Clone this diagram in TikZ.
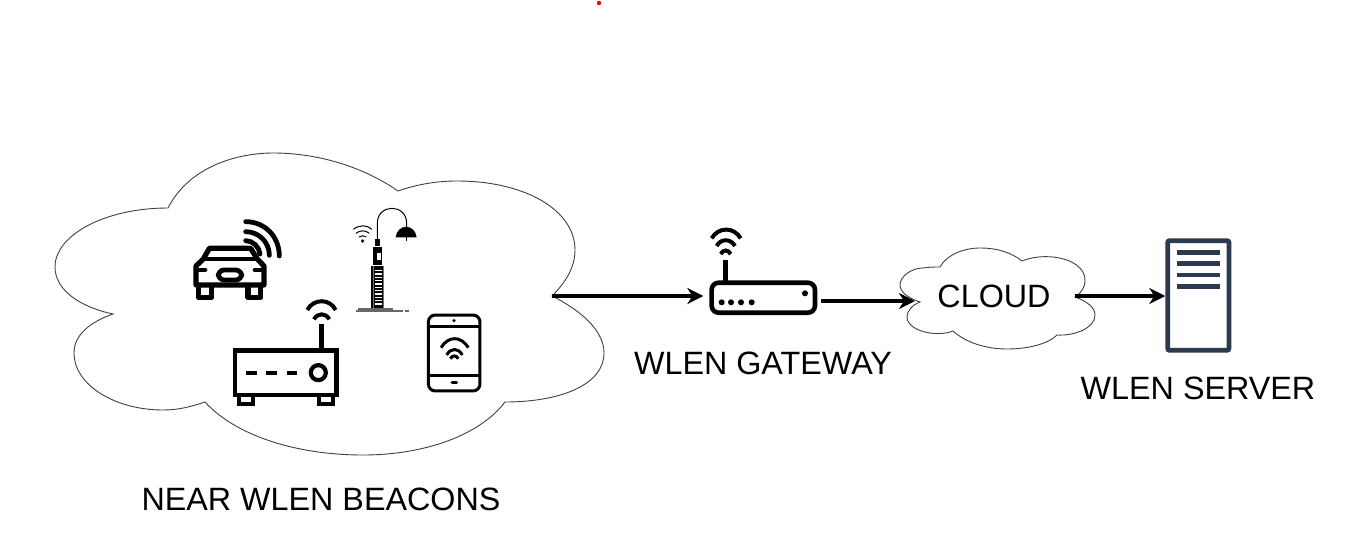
\documentclass[tikz,border=0pt]{standalone}
\usepackage{fontspec}
\setmainfont{Liberation Sans}
\usepackage{xcolor}
\usetikzlibrary{arrows.meta}
\definecolor{servercol}{HTML}{2B3A4E}
\tikzset{
  outline/.style={draw=black!75,line width=0.9pt},
  flow/.style={line width=3.4pt,-{Stealth[length=16pt,width=16pt,inset=5pt]}},
  caption/.style={font=\fontsize{32.3}{38}\selectfont,inner sep=0pt},
  zoomed/.style={x=0.3333pt,y=-0.3333pt},
  thick line/.style={line width=4.8pt},
  mid line/.style={line width=4pt},
}
\begin{document}
\begin{tikzpicture}[x=1pt,y=-1pt,line cap=butt]
\useasboundingbox (0,0) rectangle (1365,541);
\fill[red] (599,3) circle[radius=2.2pt];

% clouds
\draw[outline] (168,208) .. controls (190,165) and (240,153) .. (273,153)
  .. controls (320,153) and (365,168) .. (398,191)
  .. controls (415,185) and (435,181) .. (457,181)
  .. controls (525,181) and (575,210) .. (575,250)
  .. controls (575,268) and (565,283) .. (552,296)
  .. controls (580,310) and (604,330) .. (604,353)
  .. controls (604,385) and (560,402) .. (505,402)
  .. controls (480,435) and (425,455) .. (363,455)
  .. controls (295,455) and (235,435) .. (205,402)
  .. controls (190,407) and (178,410) .. (163,410)
  .. controls (115,410) and (74,385) .. (74,353)
  .. controls (74,335) and (90,322) .. (113,314)
  .. controls (80,307) and (55,290) .. (55,267)
  .. controls (55,235) and (105,208) .. (168,208) -- cycle;
\draw[outline] (940,267) .. controls (947,254) and (965,248) .. (980,248)
  .. controls (998,248) and (1012,253) .. (1022,261)
  .. controls (1032,257) and (1042,256) .. (1053,257)
  .. controls (1072,259) and (1085,268) .. (1085,280)
  .. controls (1085,288) and (1081,293) .. (1075,297)
  .. controls (1086,301) and (1095,307) .. (1095,315)
  .. controls (1095,328) and (1075,336) .. (1057,335)
  .. controls (1048,344) and (1028,349) .. (1007,349)
  .. controls (985,349) and (965,342) .. (953,331)
  .. controls (945,334) and (938,334) .. (930,333)
  .. controls (917,331) and (907,325) .. (907,317)
  .. controls (907,311) and (912,305) .. (920,302)
  .. controls (908,298) and (900,292) .. (900,285)
  .. controls (900,276) and (912,268) .. (923,268)
  .. controls (929,267) and (935,267) .. (940,267) -- cycle;

% car
\begin{scope}[shift={(170,190)},zoomed]
\draw[thick line,line width=5.2pt,line join=round] (78,228) -- (100,207) -- (118,175) -- (242,175) -- (262,207) -- (282,228)
  -- (282,285) -- (78,285) -- cycle;
\draw[thick line] (100,207) -- (262,207);
\draw[thick line,line cap=round] (82,240) -- (105,240);
\draw[thick line,line cap=round] (255,240) -- (278,240);
\draw[thick line,rounded corners=6pt] (145,240) rectangle (215,270);
\draw[thick line,line width=5.2pt,line join=round] (86,287) -- (86,322) -- (124,322) -- (124,287);
\draw[thick line,line width=5.2pt,line join=round] (234,287) -- (234,322) -- (272,322) -- (272,287);
\draw[thick line,line cap=round] (227,95) .. controls (285,95) and (328,140) .. (328,198);
\draw[thick line,line cap=round] (227,125) .. controls (265,125) and (298,155) .. (298,196);
\draw[thick line,line cap=round] (227,152) .. controls (248,152) and (268,170) .. (270,192);
\end{scope}

% street lamp
\begin{scope}[shift={(170,190)},zoomed]
\draw[line width=1pt] (550,118) .. controls (568,104) and (590,104) .. (606,118);
\draw[line width=1pt] (558,130) .. controls (570,120) and (586,120) .. (598,130);
\draw[line width=1pt] (567,141) .. controls (574,136) and (582,136) .. (589,141);
\fill (578,153) circle[radius=1.8pt];
\draw[line width=1pt] (622,148) -- (622,100) .. controls (622,40) and (710,40) .. (710,100) -- (710,115);
\fill (677,142) .. controls (682,100) and (735,100) .. (740,142) -- cycle;
\draw[line width=0.8pt] (708,140) -- (708,152);
\fill (615,148) rectangle (630,168);
\fill (610,172) rectangle (637,225);
\fill[white] (620,188) rectangle (633,210);
\fill[black!55] (603,228) rectangle (643,355);
\fill (603,228) rectangle (608,355);
\fill (612,228) rectangle (638,355);
\foreach \ybar in {240,250,...,340} {
  \fill[white] (616,\ybar) rectangle (635,\ybar+4);
}
\draw[black!60,line width=1.2pt] (557,363) -- (700,363);
\draw[black!60,line width=1.5pt] (565,357) -- (668,357);
\draw[black!60,line width=1.2pt] (705,363) -- (717,363);
\end{scope}

% beacon box
\begin{scope}[shift={(170,190)},zoomed]
\draw[thick line] (195,482) rectangle (500,615);
\foreach \xbar in {228,288,350} {
  \draw[line width=4.2pt] (\xbar,548) -- (\xbar+32,548);
}
\draw[line width=4.2pt] (445,548) circle[radius=7.5pt];
\draw[mid line] (208,618) -- (208,642) -- (248,642) -- (248,618);
\draw[mid line] (447,618) -- (447,642) -- (490,642) -- (490,618);
\draw[thick line] (455,480) -- (455,402);
\draw[mid line] (412,360) .. controls (430,325) and (480,325) .. (497,360);
\draw[mid line] (432,388) .. controls (443,368) and (467,368) .. (478,388);
\end{scope}

% tablet
\begin{scope}[shift={(415,305)},zoomed]
\draw[line width=3pt,rounded corners=7pt] (40,30) rectangle (195,258);
\draw[line width=3pt] (40,65) -- (195,65);
\draw[line width=3pt] (40,212) -- (195,212);
\fill (117,47) circle[radius=1.7pt];
\draw[line width=3pt,line cap=round] (111,232) -- (125,232);
\draw[line width=3pt] (78,128) .. controls (100,92) and (138,92) .. (160,128);
\draw[line width=3pt] (95,150) .. controls (107,128) and (130,128) .. (142,150);
\draw[line width=3pt] (106,161) .. controls (112,150) and (124,150) .. (130,161);
\end{scope}

% gateway
\node[draw,line width=4.6pt,rounded corners=7pt,minimum width=103.3pt,minimum height=30pt,inner sep=0pt] (gateway) at (763.3,297.7) {};
\begin{scope}[shift={(680,220)},zoomed]
\foreach \xdot in {125,153,183,215} {
  \fill (\xdot,247) circle[radius=3pt];
}
\fill (375,220) circle[radius=3pt];
\draw[thick line] (137,120) -- (137,185);
\draw[mid line] (95,55) .. controls (115,20) and (162,20) .. (182,55);
\draw[mid line] (110,78) .. controls (122,55) and (152,55) .. (165,78);
\draw[mid line] (122,102) .. controls (130,88) and (144,88) .. (152,102);
\end{scope}

% server
\node[draw=servercol,line width=4.8pt,rounded corners=2pt,minimum width=61.3pt,minimum height=109.6pt,inner sep=0pt] (server) at (1198.3,295.5) {};
\begin{scope}[shift={(1070,225)},zoomed]
\foreach \ybar in {82,116,150,184} {
  \draw[servercol,line width=4.8pt] (320,\ybar) -- (450,\ybar);
}
\end{scope}

% connectors
\coordinate (beaconout) at (552,296);
\coordinate (cloudin) at (915,301);
\coordinate (cloudout) at (1075,296);
\draw[flow,shorten >=6pt] (beaconout) -- (beaconout -| gateway.west);
\draw[flow,shorten <=4pt] (gateway.east |- cloudin) -- (cloudin);
\draw[flow] (cloudout) -- (cloudout -| server.west);

\node[caption] (beaconstext) at (321,499) {NEAR WLEN BEACONS};
\node[caption] (gatewaytext) at (763,363) {WLEN GATEWAY};
\node[caption] (cloudtext) at (994,296) {CLOUD};
\node[caption] (servertext) at (1198,388) {WLEN SERVER};
\end{tikzpicture}
\end{document}
